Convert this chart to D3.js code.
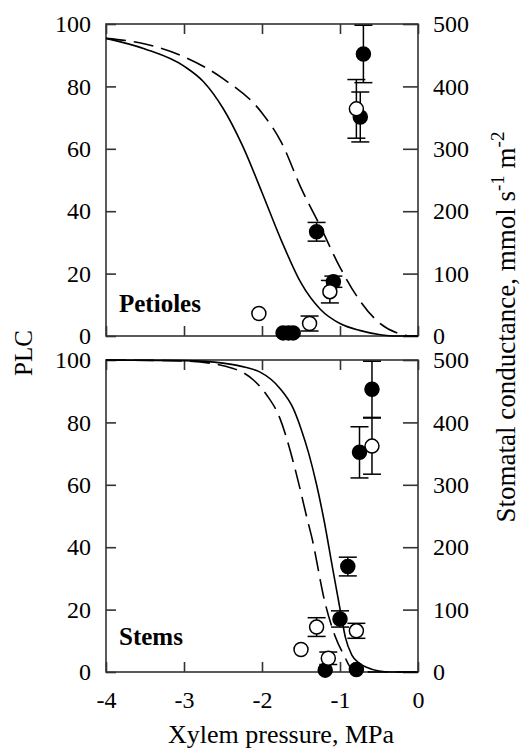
<!DOCTYPE html>
<html>
<head>
<meta charset="utf-8">
<script src="https://d3js.org/d3.v7.min.js"></script>
<style>
  body { margin: 0; background: white; }
  svg text { font-family: 'Liberation Serif', 'DejaVu Serif', serif; fill: black; }
</style>
</head>
<body>
<svg id="chart" width="523" height="751"></svg>
<script>
// axis ticks
var xTicks = [-4, -3, -2, -1, 0];
var plcTicks = [0, 20, 40, 60, 80, 100];
var gsTicks = [0, 100, 200, 300, 400, 500];

// petioles: vulnerability curves (xylem pressure, PLC)
var petSolidP   = [-4, -3.5, -3.0, -2.75, -2.5, -2.25, -2.0, -1.75, -1.5, -1.25, -1.0, -0.75, -0.5, -0.27, 0];
var petSolidPLC = [95.4, 92, 86.5, 81.5, 73, 61, 46, 30.5, 17, 8.5, 4, 1.8, 0.5, 0, 0];
var petDashP    = [-4, -3.5, -3.0, -2.5, -2.0, -1.75, -1.5, -1.25, -1.0, -0.75, -0.5, -0.25, -0.1, 0];
var petDashPLC  = [95.4, 93.6, 89.5, 82.5, 71.5, 62, 47.5, 35, 22, 11.5, 4.3, 0.8, 0, 0];

// petioles: stomatal conductance points
var petFilledP   = [-0.70, -0.74, -1.30, -1.085, -1.73, -1.66, -1.60];
var petFilledGs  = [452, 351, 167, 87, 5, 5, 5];
var petFilledErr = [46, 40, 15, 9, 0, 0, 0];
var petOpenP     = [-0.79, -1.13, -2.04, -1.39];
var petOpenGs    = [364, 71, 36, 20];
var petOpenErr   = [47, 18, 0, 12];

// stems: vulnerability curves
var stemSolidP   = [-4, -3, -2.5, -2.2, -2.03, -1.77, -1.6, -1.5, -1.4, -1.3, -1.2, -1.1, -1.02, -0.98, -0.93, -0.85, -0.75, -0.66, -0.5, -0.35, 0];
var stemSolidPLC = [100, 99.8, 99, 97.6, 96.2, 90.9, 84.5, 78, 70, 60, 48, 34, 23, 17.5, 11, 5.5, 2.8, 1.5, 0.3, 0, 0];
var stemDashP    = [-4, -3, -2.37, -2.11, -1.94, -1.77, -1.6, -1.51, -1.43, -1.36, -1.19, -1.06, -0.94, -0.87, -0.75, -0.6, 0];
var stemDashPLC  = [100, 99.7, 97.3, 93.6, 88.8, 81.3, 67.4, 58.5, 50, 43, 22, 11.3, 4.9, 1.7, 0.4, 0, 0];

// stems: stomatal conductance points
var stemFilledP   = [-0.59, -0.75, -0.90, -1.00, -1.19, -0.79];
var stemFilledGs  = [453, 352, 169, 85, 3, 4];
var stemFilledErr = [45, 41, 15, 13, 0, 0];
var stemOpenP     = [-0.59, -0.79, -1.30, -1.50, -1.15];
var stemOpenGs    = [362, 66, 72, 36, 22];
var stemOpenErr   = [45, 12, 15, 0, 10];

var svg = d3.select("#chart");
var x = d3.scaleLinear().domain([-4, 0]).range([106, 418]);

function drawPanel(top, bottom, c, label, labelY, showX) {
  var yL = d3.scaleLinear().domain([0, 100]).range([bottom, top]);
  var yR = d3.scaleLinear().domain([0, 500]).range([bottom, top]);

  // axes with inward ticks
  var gl = svg.append("g").attr("transform", "translate(106,0)")
    .call(d3.axisLeft(yL).tickValues(plcTicks).tickSize(-10).tickPadding(15));
  var gr = svg.append("g").attr("transform", "translate(418,0)")
    .call(d3.axisRight(yR).tickValues(gsTicks).tickSize(-15).tickPadding(15));
  var gt = svg.append("g").attr("transform", "translate(0," + top + ")")
    .call(d3.axisTop(x).tickValues(xTicks).tickSize(-10).tickFormat(""));
  var gb = svg.append("g").attr("transform", "translate(0," + bottom + ")")
    .call(d3.axisBottom(x).tickValues(xTicks).tickSize(-10).tickPadding(19)
      .tickFormat(showX ? function (d) { return String(d); } : ""));
  [gl, gr, gt, gb].forEach(function (g) {
    g.attr("font-family", null);
    g.select(".domain").remove();
    g.selectAll(".tick line").attr("stroke", "#333").attr("stroke-width", 1.6);
    g.selectAll(".tick text").attr("font-size", 24);
  });

  svg.append("rect").attr("x", 106).attr("y", top).attr("width", 312).attr("height", bottom - top)
    .attr("fill", "none").attr("stroke", "#333").attr("stroke-width", 1.6);

  var line = d3.line().x(function (d) { return x(d[0]); }).y(function (d) { return yL(d[1]); })
    .curve(d3.curveMonotoneX);
  svg.append("path").datum(d3.zip(c.solidP, c.solidPLC)).attr("d", line)
    .attr("fill", "none").attr("stroke", "black").attr("stroke-width", 1.6);
  svg.append("path").datum(d3.zip(c.dashP, c.dashPLC)).attr("d", line)
    .attr("fill", "none").attr("stroke", "black").attr("stroke-width", 1.6)
    .attr("stroke-dasharray", "20,8");

  function points(P, G, E, fill) {
    var data = d3.zip(P, G, E);
    var eb = svg.append("g").selectAll("g").data(data.filter(function (d) { return d[2] > 0; }))
      .enter().append("g").attr("stroke", "black").attr("stroke-width", 1.5);
    eb.append("line").attr("x1", function (d) { return x(d[0]); }).attr("x2", function (d) { return x(d[0]); })
      .attr("y1", function (d) { return yR(d[1] - d[2]); }).attr("y2", function (d) { return yR(d[1] + d[2]); });
    [-1, 1].forEach(function (s) {
      eb.append("line").attr("x1", function (d) { return x(d[0]) - 9; }).attr("x2", function (d) { return x(d[0]) + 9; })
        .attr("y1", function (d) { return yR(d[1] + s * d[2]); }).attr("y2", function (d) { return yR(d[1] + s * d[2]); });
    });
    svg.append("g").selectAll("circle").data(data).enter().append("circle")
      .attr("cx", function (d) { return x(d[0]); }).attr("cy", function (d) { return yR(d[1]); })
      .attr("r", 7).attr("fill", fill).attr("stroke", "black").attr("stroke-width", 1.5);
  }
  points(c.filledP, c.filledGs, c.filledErr, "black");
  points(c.openP, c.openGs, c.openErr, "white");

  svg.append("text").attr("x", 119).attr("y", labelY).attr("font-size", 25).attr("font-weight", "bold").text(label);
}

drawPanel(24, 336, {
  solidP: petSolidP, solidPLC: petSolidPLC, dashP: petDashP, dashPLC: petDashPLC,
  filledP: petFilledP, filledGs: petFilledGs, filledErr: petFilledErr,
  openP: petOpenP, openGs: petOpenGs, openErr: petOpenErr
}, "Petioles", 312, false);

drawPanel(360, 672, {
  solidP: stemSolidP, solidPLC: stemSolidPLC, dashP: stemDashP, dashPLC: stemDashPLC,
  filledP: stemFilledP, filledGs: stemFilledGs, filledErr: stemFilledErr,
  openP: stemOpenP, openGs: stemOpenGs, openErr: stemOpenErr
}, "Stems", 645, true);

// axis titles
svg.append("text").attr("transform", "translate(32,353) rotate(-90)")
  .attr("text-anchor", "middle").attr("font-size", 25).text("PLC");

svg.append("text").attr("x", 281).attr("y", 743).attr("text-anchor", "middle")
  .attr("font-size", 26).text("Xylem pressure, MPa");

var rt = svg.append("text").attr("transform", "translate(515,327) rotate(-90)")
  .attr("text-anchor", "middle").attr("font-size", 27);
rt.append("tspan").text("Stomatal conductance, mmol s");
rt.append("tspan").attr("dy", -11).attr("font-size", 19).text("-1");
rt.append("tspan").attr("dy", 11).text(" m");
rt.append("tspan").attr("dy", -11).attr("font-size", 19).text("-2");
</script>
</body>
</html>
